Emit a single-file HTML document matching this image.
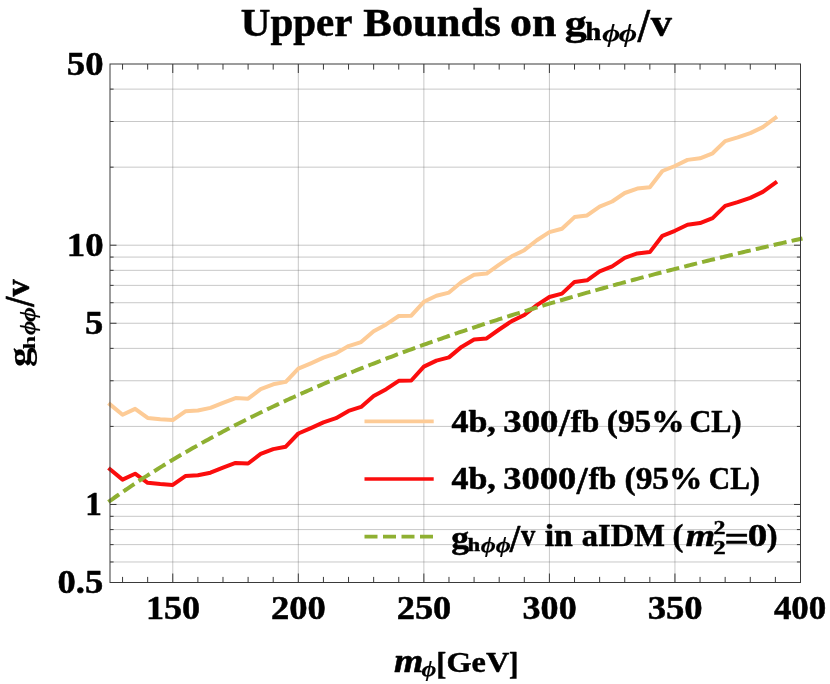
<!DOCTYPE html>
<html><head><meta charset="utf-8"><title>Upper Bounds</title>
<style>html,body{margin:0;padding:0;background:#fff;overflow:hidden;}svg{display:block;will-change:transform;}text{font-family:"Liberation Serif",serif;font-weight:bold;fill:#000;}.i{font-style:italic;}</style></head><body>
<svg width="830" height="684" viewBox="0 0 830 684">
<rect x="0" y="0" width="830" height="684" fill="#ffffff"/>
<g stroke="#666666" stroke-opacity="0.36" stroke-width="1" fill="none">
<line x1="110.00" y1="504.46" x2="800.50" y2="504.46"/>
<line x1="110.00" y1="323.25" x2="800.50" y2="323.25"/>
<line x1="110.00" y1="245.21" x2="800.50" y2="245.21"/>
<line x1="110.00" y1="561.97" x2="800.50" y2="561.97"/>
<line x1="110.00" y1="544.62" x2="800.50" y2="544.62"/>
<line x1="110.00" y1="529.58" x2="800.50" y2="529.58"/>
<line x1="110.00" y1="516.32" x2="800.50" y2="516.32"/>
<line x1="110.00" y1="426.42" x2="800.50" y2="426.42"/>
<line x1="110.00" y1="380.76" x2="800.50" y2="380.76"/>
<line x1="110.00" y1="348.37" x2="800.50" y2="348.37"/>
<line x1="110.00" y1="302.72" x2="800.50" y2="302.72"/>
<line x1="110.00" y1="285.37" x2="800.50" y2="285.37"/>
<line x1="110.00" y1="270.33" x2="800.50" y2="270.33"/>
<line x1="110.00" y1="257.07" x2="800.50" y2="257.07"/>
<line x1="110.00" y1="167.17" x2="800.50" y2="167.17"/>
<line x1="110.00" y1="121.51" x2="800.50" y2="121.51"/>
<line x1="110.00" y1="89.12" x2="800.50" y2="89.12"/>
<line x1="172.77" y1="64.00" x2="172.77" y2="582.50"/>
<line x1="298.32" y1="64.00" x2="298.32" y2="582.50"/>
<line x1="423.86" y1="64.00" x2="423.86" y2="582.50"/>
<line x1="549.41" y1="64.00" x2="549.41" y2="582.50"/>
<line x1="674.95" y1="64.00" x2="674.95" y2="582.50"/>
</g>
<clipPath id="c"><rect x="110.00" y="64.00" width="690.50" height="518.50"/></clipPath>
<g fill="none" stroke-linejoin="round" stroke-linecap="square">
<polyline points="110.00,404.39 122.55,414.79 135.11,408.89 147.66,417.99 160.22,419.29 172.77,420.09 185.33,411.29 197.88,410.49 210.44,407.89 222.99,402.79 235.55,398.09 248.10,398.69 260.65,389.09 273.21,384.29 285.76,381.89 298.32,368.69 310.87,363.29 323.43,357.59 335.98,353.39 348.54,346.09 361.09,342.09 373.65,331.29 386.20,324.39 398.75,315.99 411.31,315.69 423.86,301.79 436.42,295.79 448.97,292.59 461.53,282.09 474.08,274.79 486.64,273.59 499.19,264.69 511.75,256.29 524.30,250.19 536.85,240.29 549.41,232.19 561.96,228.79 574.52,217.09 587.07,215.49 599.63,206.59 612.18,201.49 624.74,192.99 637.29,188.59 649.85,187.29 662.40,170.99 674.95,165.99 687.51,159.89 700.06,158.29 712.62,153.29 725.17,141.09 737.73,137.39 750.28,133.09 762.84,127.09 775.39,117.89" stroke="#fdcb96" stroke-width="4.0"/>
<polyline points="110.00,469.20 122.55,479.60 135.11,473.70 147.66,482.80 160.22,484.10 172.77,484.90 185.33,476.10 197.88,475.30 210.44,472.70 222.99,467.60 235.55,462.90 248.10,463.50 260.65,453.90 273.21,449.10 285.76,446.70 298.32,433.50 310.87,428.10 323.43,422.40 335.98,418.20 348.54,410.90 361.09,406.90 373.65,396.10 386.20,389.20 398.75,380.80 411.31,380.50 423.86,366.60 436.42,360.60 448.97,357.40 461.53,346.90 474.08,339.60 486.64,338.40 499.19,329.50 511.75,321.10 524.30,315.00 536.85,305.10 549.41,297.00 561.96,293.60 574.52,281.90 587.07,280.30 599.63,271.40 612.18,266.30 624.74,257.80 637.29,253.40 649.85,252.10 662.40,235.80 674.95,230.80 687.51,224.70 700.06,223.10 712.62,218.10 725.17,205.90 737.73,202.20 750.28,197.90 762.84,191.90 775.39,182.70" stroke="#fb0d0d" stroke-width="4.0"/>
<polyline points="110.00,500.83 112.51,499.03 115.02,497.25 117.53,495.49 120.04,493.73 122.55,491.99 125.07,490.27 127.58,488.56 130.09,486.86 132.60,485.17 135.11,483.50 137.62,481.83 140.13,480.18 142.64,478.55 145.15,476.92 147.66,475.31 150.17,473.70 152.69,472.11 155.20,470.53 157.71,468.96 160.22,467.40 162.73,465.86 165.24,464.32 167.75,462.79 170.26,461.28 172.77,459.77 175.28,458.27 177.79,456.79 180.31,455.31 182.82,453.84 185.33,452.39 187.84,450.94 190.35,449.50 192.86,448.07 195.37,446.65 197.88,445.24 200.39,443.83 202.90,442.44 205.41,441.05 207.93,439.68 210.44,438.31 212.95,436.95 215.46,435.60 217.97,434.25 220.48,432.91 222.99,431.59 225.50,430.27 228.01,428.95 230.52,427.65 233.03,426.35 235.55,425.06 238.06,423.78 240.57,422.50 243.08,421.23 245.59,419.97 248.10,418.71 250.61,417.47 253.12,416.23 255.63,414.99 258.14,413.77 260.65,412.55 263.17,411.33 265.68,410.12 268.19,408.92 270.70,407.73 273.21,406.54 275.72,405.36 278.23,404.18 280.74,403.01 283.25,401.85 285.76,400.69 288.27,399.54 290.79,398.39 293.30,397.25 295.81,396.12 298.32,394.99 300.83,393.87 303.34,392.75 305.85,391.64 308.36,390.53 310.87,389.43 313.38,388.33 315.89,387.24 318.41,386.16 320.92,385.08 323.43,384.00 325.94,382.93 328.45,381.87 330.96,380.81 333.47,379.75 335.98,378.70 338.49,377.66 341.00,376.62 343.51,375.58 346.03,374.55 348.54,373.53 351.05,372.51 353.56,371.49 356.07,370.48 358.58,369.47 361.09,368.47 363.60,367.47 366.11,366.47 368.62,365.48 371.13,364.50 373.65,363.52 376.16,362.54 378.67,361.57 381.18,360.60 383.69,359.64 386.20,358.68 388.71,357.72 391.22,356.77 393.73,355.82 396.24,354.87 398.75,353.93 401.27,353.00 403.78,352.07 406.29,351.14 408.80,350.21 411.31,349.29 413.82,348.37 416.33,347.46 418.84,346.55 421.35,345.64 423.86,344.74 426.37,343.84 428.89,342.95 431.40,342.06 433.91,341.17 436.42,340.28 438.93,339.40 441.44,338.52 443.95,337.65 446.46,336.78 448.97,335.91 451.48,335.05 453.99,334.18 456.51,333.33 459.02,332.47 461.53,331.62 464.04,330.77 466.55,329.93 469.06,329.09 471.57,328.25 474.08,327.41 476.59,326.58 479.10,325.75 481.61,324.92 484.13,324.10 486.64,323.28 489.15,322.46 491.66,321.65 494.17,320.84 496.68,320.03 499.19,319.22 501.70,318.42 504.21,317.62 506.72,316.82 509.23,316.03 511.75,315.24 514.26,314.45 516.77,313.66 519.28,312.88 521.79,312.10 524.30,311.32 526.81,310.55 529.32,309.77 531.83,309.00 534.34,308.24 536.85,307.47 539.37,306.71 541.88,305.95 544.39,305.19 546.90,304.44 549.41,303.69 551.92,302.94 554.43,302.19 556.94,301.45 559.45,300.70 561.96,299.96 564.47,299.23 566.99,298.49 569.50,297.76 572.01,297.03 574.52,296.30 577.03,295.58 579.54,294.85 582.05,294.13 584.56,293.42 587.07,292.70 589.58,291.99 592.09,291.27 594.61,290.57 597.12,289.86 599.63,289.15 602.14,288.45 604.65,287.75 607.16,287.05 609.67,286.36 612.18,285.66 614.69,284.97 617.20,284.28 619.71,283.59 622.23,282.91 624.74,282.22 627.25,281.54 629.76,280.86 632.27,280.19 634.78,279.51 637.29,278.84 639.80,278.17 642.31,277.50 644.82,276.83 647.33,276.17 649.85,275.50 652.36,274.84 654.87,274.18 657.38,273.52 659.89,272.87 662.40,272.21 664.91,271.56 667.42,270.91 669.93,270.26 672.44,269.62 674.95,268.97 677.47,268.33 679.98,267.69 682.49,267.05 685.00,266.42 687.51,265.78 690.02,265.15 692.53,264.52 695.04,263.89 697.55,263.26 700.06,262.63 702.57,262.01 705.09,261.38 707.60,260.76 710.11,260.14 712.62,259.52 715.13,258.91 717.64,258.29 720.15,257.68 722.66,257.07 725.17,256.46 727.68,255.85 730.19,255.25 732.71,254.64 735.22,254.04 737.73,253.44 740.24,252.84 742.75,252.24 745.26,251.64 747.77,251.05 750.28,250.46 752.79,249.86 755.30,249.27 757.81,248.69 760.33,248.10 762.84,247.51 765.35,246.93 767.86,246.35 770.37,245.76 772.88,245.18 775.39,244.61 777.90,244.03 780.41,243.45 782.92,242.88 785.43,242.31 787.95,241.74 790.46,241.17 792.97,240.60 795.48,240.03 797.99,239.47 800.50,238.91" stroke="#8fb032" stroke-width="4.0" stroke-dasharray="9.2 9.2"/>
</g>
<g stroke="#3a3a3a" stroke-width="1" fill="none">
<rect x="110.00" y="64.00" width="690.50" height="518.50"/>
<line x1="172.77" y1="582.50" x2="172.77" y2="573.50"/>
<line x1="172.77" y1="64.00" x2="172.77" y2="73.00"/>
<line x1="298.32" y1="582.50" x2="298.32" y2="573.50"/>
<line x1="298.32" y1="64.00" x2="298.32" y2="73.00"/>
<line x1="423.86" y1="582.50" x2="423.86" y2="573.50"/>
<line x1="423.86" y1="64.00" x2="423.86" y2="73.00"/>
<line x1="549.41" y1="582.50" x2="549.41" y2="573.50"/>
<line x1="549.41" y1="64.00" x2="549.41" y2="73.00"/>
<line x1="674.95" y1="582.50" x2="674.95" y2="573.50"/>
<line x1="674.95" y1="64.00" x2="674.95" y2="73.00"/>
<line x1="122.55" y1="582.50" x2="122.55" y2="576.90"/>
<line x1="122.55" y1="64.00" x2="122.55" y2="69.60"/>
<line x1="147.66" y1="582.50" x2="147.66" y2="576.90"/>
<line x1="147.66" y1="64.00" x2="147.66" y2="69.60"/>
<line x1="197.88" y1="582.50" x2="197.88" y2="576.90"/>
<line x1="197.88" y1="64.00" x2="197.88" y2="69.60"/>
<line x1="222.99" y1="582.50" x2="222.99" y2="576.90"/>
<line x1="222.99" y1="64.00" x2="222.99" y2="69.60"/>
<line x1="248.10" y1="582.50" x2="248.10" y2="576.90"/>
<line x1="248.10" y1="64.00" x2="248.10" y2="69.60"/>
<line x1="273.21" y1="582.50" x2="273.21" y2="576.90"/>
<line x1="273.21" y1="64.00" x2="273.21" y2="69.60"/>
<line x1="323.43" y1="582.50" x2="323.43" y2="576.90"/>
<line x1="323.43" y1="64.00" x2="323.43" y2="69.60"/>
<line x1="348.54" y1="582.50" x2="348.54" y2="576.90"/>
<line x1="348.54" y1="64.00" x2="348.54" y2="69.60"/>
<line x1="373.65" y1="582.50" x2="373.65" y2="576.90"/>
<line x1="373.65" y1="64.00" x2="373.65" y2="69.60"/>
<line x1="398.75" y1="582.50" x2="398.75" y2="576.90"/>
<line x1="398.75" y1="64.00" x2="398.75" y2="69.60"/>
<line x1="448.97" y1="582.50" x2="448.97" y2="576.90"/>
<line x1="448.97" y1="64.00" x2="448.97" y2="69.60"/>
<line x1="474.08" y1="582.50" x2="474.08" y2="576.90"/>
<line x1="474.08" y1="64.00" x2="474.08" y2="69.60"/>
<line x1="499.19" y1="582.50" x2="499.19" y2="576.90"/>
<line x1="499.19" y1="64.00" x2="499.19" y2="69.60"/>
<line x1="524.30" y1="582.50" x2="524.30" y2="576.90"/>
<line x1="524.30" y1="64.00" x2="524.30" y2="69.60"/>
<line x1="574.52" y1="582.50" x2="574.52" y2="576.90"/>
<line x1="574.52" y1="64.00" x2="574.52" y2="69.60"/>
<line x1="599.63" y1="582.50" x2="599.63" y2="576.90"/>
<line x1="599.63" y1="64.00" x2="599.63" y2="69.60"/>
<line x1="624.74" y1="582.50" x2="624.74" y2="576.90"/>
<line x1="624.74" y1="64.00" x2="624.74" y2="69.60"/>
<line x1="649.85" y1="582.50" x2="649.85" y2="576.90"/>
<line x1="649.85" y1="64.00" x2="649.85" y2="69.60"/>
<line x1="700.06" y1="582.50" x2="700.06" y2="576.90"/>
<line x1="700.06" y1="64.00" x2="700.06" y2="69.60"/>
<line x1="725.17" y1="582.50" x2="725.17" y2="576.90"/>
<line x1="725.17" y1="64.00" x2="725.17" y2="69.60"/>
<line x1="750.28" y1="582.50" x2="750.28" y2="576.90"/>
<line x1="750.28" y1="64.00" x2="750.28" y2="69.60"/>
<line x1="775.39" y1="582.50" x2="775.39" y2="576.90"/>
<line x1="775.39" y1="64.00" x2="775.39" y2="69.60"/>
<line x1="110.00" y1="504.46" x2="116.50" y2="504.46"/>
<line x1="800.50" y1="504.46" x2="794.00" y2="504.46"/>
<line x1="110.00" y1="323.25" x2="116.50" y2="323.25"/>
<line x1="800.50" y1="323.25" x2="794.00" y2="323.25"/>
<line x1="110.00" y1="245.21" x2="116.50" y2="245.21"/>
<line x1="800.50" y1="245.21" x2="794.00" y2="245.21"/>
<line x1="110.00" y1="561.97" x2="113.60" y2="561.97"/>
<line x1="800.50" y1="561.97" x2="796.90" y2="561.97"/>
<line x1="110.00" y1="544.62" x2="113.60" y2="544.62"/>
<line x1="800.50" y1="544.62" x2="796.90" y2="544.62"/>
<line x1="110.00" y1="529.58" x2="113.60" y2="529.58"/>
<line x1="800.50" y1="529.58" x2="796.90" y2="529.58"/>
<line x1="110.00" y1="516.32" x2="113.60" y2="516.32"/>
<line x1="800.50" y1="516.32" x2="796.90" y2="516.32"/>
<line x1="110.00" y1="426.42" x2="113.60" y2="426.42"/>
<line x1="800.50" y1="426.42" x2="796.90" y2="426.42"/>
<line x1="110.00" y1="380.76" x2="113.60" y2="380.76"/>
<line x1="800.50" y1="380.76" x2="796.90" y2="380.76"/>
<line x1="110.00" y1="348.37" x2="113.60" y2="348.37"/>
<line x1="800.50" y1="348.37" x2="796.90" y2="348.37"/>
<line x1="110.00" y1="302.72" x2="113.60" y2="302.72"/>
<line x1="800.50" y1="302.72" x2="796.90" y2="302.72"/>
<line x1="110.00" y1="285.37" x2="113.60" y2="285.37"/>
<line x1="800.50" y1="285.37" x2="796.90" y2="285.37"/>
<line x1="110.00" y1="270.33" x2="113.60" y2="270.33"/>
<line x1="800.50" y1="270.33" x2="796.90" y2="270.33"/>
<line x1="110.00" y1="257.07" x2="113.60" y2="257.07"/>
<line x1="800.50" y1="257.07" x2="796.90" y2="257.07"/>
<line x1="110.00" y1="167.17" x2="113.60" y2="167.17"/>
<line x1="800.50" y1="167.17" x2="796.90" y2="167.17"/>
<line x1="110.00" y1="121.51" x2="113.60" y2="121.51"/>
<line x1="800.50" y1="121.51" x2="796.90" y2="121.51"/>
<line x1="110.00" y1="89.12" x2="113.60" y2="89.12"/>
<line x1="800.50" y1="89.12" x2="796.90" y2="89.12"/>
</g>
<text transform="translate(66.81,74.75) scale(1.1123,1.0000)" font-size="33" font-weight="bold" stroke="#000" stroke-width="0.5" stroke-linejoin="round" >50</text>
<text transform="translate(66.74,255.85) scale(1.1146,1.0000)" font-size="33" font-weight="bold" stroke="#000" stroke-width="0.5" stroke-linejoin="round" >10</text>
<text transform="translate(85.02,333.90) scale(1.1066,1.0000)" font-size="33" font-weight="bold" stroke="#000" stroke-width="0.5" stroke-linejoin="round" >5</text>
<text transform="translate(85.20,515.05) scale(1.0044,1.0000)" font-size="33" font-weight="bold" stroke="#000" stroke-width="0.5" stroke-linejoin="round" >1</text>
<text transform="translate(57.59,593.05) scale(1.1076,1.0000)" font-size="33" font-weight="bold" stroke="#000" stroke-width="0.5" stroke-linejoin="round" >0.5</text>
<text transform="translate(145.88,618.90) scale(1.0953,1.0000)" font-size="33" font-weight="bold" stroke="#000" stroke-width="0.5" stroke-linejoin="round" >150</text>
<text transform="translate(270.94,618.90) scale(1.1106,1.0000)" font-size="33" font-weight="bold" stroke="#000" stroke-width="0.5" stroke-linejoin="round" >200</text>
<text transform="translate(396.75,618.90) scale(1.1022,1.0000)" font-size="33" font-weight="bold" stroke="#000" stroke-width="0.5" stroke-linejoin="round" >250</text>
<text transform="translate(522.60,618.90) scale(1.0928,1.0000)" font-size="33" font-weight="bold" stroke="#000" stroke-width="0.5" stroke-linejoin="round" >300</text>
<text transform="translate(647.68,618.90) scale(1.1118,1.0000)" font-size="33" font-weight="bold" stroke="#000" stroke-width="0.5" stroke-linejoin="round" >350</text>
<text transform="translate(773.88,618.90) scale(1.0583,1.0000)" font-size="33" font-weight="bold" stroke="#000" stroke-width="0.5" stroke-linejoin="round" >400</text>
<text transform="translate(240.84,35.70) scale(1.0522,1.0300)" font-size="39" font-weight="bold" stroke="#000" stroke-width="0.5" stroke-linejoin="round" >Upper</text>
<text transform="translate(363.35,35.70) scale(1.0928,1.0300)" font-size="39" font-weight="bold" stroke="#000" stroke-width="0.5" stroke-linejoin="round" >Bounds</text>
<text transform="translate(510.01,35.70) scale(1.1258,1.0300)" font-size="39" font-weight="bold" stroke="#000" stroke-width="0.5" stroke-linejoin="round" >on</text>
<text transform="translate(564.74,35.19) scale(1.1293,0.9373)" font-size="39" font-weight="bold" stroke="#000" stroke-width="0.5" stroke-linejoin="round" >g</text>
<text transform="translate(585.35,39.56) scale(1.0671,0.9564)" font-size="27" font-weight="bold" stroke="#000" stroke-width="0.5" stroke-linejoin="round" >h</text>
<text transform="translate(602.17,41.97) scale(1.1717,0.9841)" font-size="26.5" font-weight="normal" font-style="italic" stroke="#000" stroke-width="0.15">ϕ</text>
<text transform="translate(618.86,41.97) scale(1.1954,0.9841)" font-size="26.5" font-weight="normal" font-style="italic" stroke="#000" stroke-width="0.15">ϕ</text>
<text transform="translate(637.71,41.51) scale(1.1137,1.2373)" font-size="39" font-weight="bold" stroke="#000" stroke-width="0.5" stroke-linejoin="round" >/</text>
<text transform="translate(650.87,35.70) scale(1.0850,1.0000)" font-size="39" font-weight="bold" stroke="#000" stroke-width="0.5" stroke-linejoin="round" >v</text>
<text transform="translate(394.07,672.10) scale(1.1434,1.0000)" font-size="33" font-weight="bold" font-style="italic" stroke="#000" stroke-width="0.5" stroke-linejoin="round" >m</text>
<text transform="translate(421.40,676.40) scale(1.1969,0.9873)" font-size="21.5" font-weight="normal" font-style="italic" stroke="#000" stroke-width="0.15">ϕ</text>
<text transform="translate(436.19,673.82) scale(0.9161,0.9812)" font-size="33" font-weight="bold" stroke="#000" stroke-width="0.5" stroke-linejoin="round" >[</text>
<text transform="translate(446.46,671.83) scale(0.9797,0.9019)" font-size="33" font-weight="bold" stroke="#000" stroke-width="0.5" stroke-linejoin="round" >GeV</text>
<text transform="translate(509.00,673.82) scale(0.8525,0.9812)" font-size="33" font-weight="bold" stroke="#000" stroke-width="0.5" stroke-linejoin="round" >]</text>
<g transform="translate(29.4,366) rotate(-90)">
<text transform="translate(-1.00,0.53) scale(1.1926,0.9827)" font-size="33" font-weight="bold" stroke="#000" stroke-width="0.2">g</text>
<text transform="translate(16.61,5.48) scale(1.3815,0.8771)" font-size="18" font-weight="bold" stroke="#000" stroke-width="0.05">h</text>
<text transform="translate(31.01,5.69) scale(1.1320,0.9899)" font-size="22" font-weight="normal" font-style="italic" stroke="#000" stroke-width="0.15">ϕ</text>
<text transform="translate(44.10,5.69) scale(1.1701,0.9899)" font-size="22" font-weight="normal" font-style="italic" stroke="#000" stroke-width="0.15">ϕ</text>
<text transform="translate(59.24,4.88) scale(1.1032,1.2491)" font-size="33" font-weight="bold" stroke="#000" stroke-width="0.5" stroke-linejoin="round" >/</text>
<text transform="translate(69.46,-0.10) scale(1.0412,1.0390)" font-size="33" font-weight="bold" stroke="#000" stroke-width="0.5" stroke-linejoin="round" >v</text>
</g>
<line x1="364.5" y1="421.4" x2="433.7" y2="421.4" stroke="#fdcb96" stroke-width="3.7"/>
<line x1="364.5" y1="479.0" x2="433.7" y2="479.0" stroke="#fb0d0d" stroke-width="3.7"/>
<line x1="364.5" y1="536.7" x2="433.7" y2="536.7" stroke="#8fb032" stroke-width="3.7" stroke-dasharray="13 5.5"/>
<text transform="translate(451.40,431.60) scale(1.1113,1.0000)" font-size="30.6" font-weight="bold" stroke="#000" stroke-width="0.5" stroke-linejoin="round" >4b,</text>
<text transform="translate(503.30,431.60) scale(1.2002,1.0000)" font-size="30.6" font-weight="bold" stroke="#000" stroke-width="0.5" stroke-linejoin="round" >300</text>
<text transform="translate(559.01,436.36) scale(1.2787,1.3399)" font-size="30.6" font-weight="bold" stroke="#000" stroke-width="0.5" stroke-linejoin="round" >/</text>
<text transform="translate(570.84,431.60) scale(1.0470,1.0000)" font-size="30.6" font-weight="bold" stroke="#000" stroke-width="0.5" stroke-linejoin="round" >fb</text>
<text transform="translate(606.81,431.60) scale(1.0877,1.0000)" font-size="30.6" font-weight="bold" stroke="#000" stroke-width="0.5" stroke-linejoin="round" >(95%</text>
<text transform="translate(689.46,431.60) scale(0.9911,1.0000)" font-size="30.6" font-weight="bold" stroke="#000" stroke-width="0.5" stroke-linejoin="round" >CL)</text>
<text transform="translate(451.40,489.10) scale(1.1113,1.0000)" font-size="30.6" font-weight="bold" stroke="#000" stroke-width="0.5" stroke-linejoin="round" >4b,</text>
<text transform="translate(503.31,489.10) scale(1.1907,1.0000)" font-size="30.6" font-weight="bold" stroke="#000" stroke-width="0.5" stroke-linejoin="round" >3000</text>
<text transform="translate(576.81,493.86) scale(1.2787,1.3399)" font-size="30.6" font-weight="bold" stroke="#000" stroke-width="0.5" stroke-linejoin="round" >/</text>
<text transform="translate(588.64,489.10) scale(1.0166,1.0000)" font-size="30.6" font-weight="bold" stroke="#000" stroke-width="0.5" stroke-linejoin="round" >fb</text>
<text transform="translate(624.50,489.10) scale(1.0921,1.0000)" font-size="30.6" font-weight="bold" stroke="#000" stroke-width="0.5" stroke-linejoin="round" >(95%</text>
<text transform="translate(708.79,489.10) scale(0.9673,1.0000)" font-size="30.6" font-weight="bold" stroke="#000" stroke-width="0.5" stroke-linejoin="round" >CL)</text>
<text transform="translate(451.27,547.54) scale(1.1634,1.0061)" font-size="30.6" font-weight="bold" stroke="#000" stroke-width="0.5" stroke-linejoin="round" >g</text>
<text transform="translate(467.51,551.37) scale(1.1052,0.9327)" font-size="20.6" font-weight="bold" stroke="#000" stroke-width="0.5" stroke-linejoin="round" >h</text>
<text transform="translate(480.69,552.24) scale(1.2668,0.9769)" font-size="20.6" font-weight="normal" font-style="italic" stroke="#000" stroke-width="0.15">ϕϕ</text>
<text transform="translate(509.68,551.58) scale(1.2164,1.2922)" font-size="30.6" font-weight="bold" stroke="#000" stroke-width="0.5" stroke-linejoin="round" >/</text>
<text transform="translate(520.93,546.20) scale(0.9304,1.0000)" font-size="30.6" font-weight="bold" stroke="#000" stroke-width="0.5" stroke-linejoin="round" >v</text>
<text transform="translate(544.73,546.20) scale(1.1049,1.0000)" font-size="30.6" font-weight="bold" stroke="#000" stroke-width="0.5" stroke-linejoin="round" >in</text>
<text transform="translate(581.72,546.20) scale(1.0636,1.0000)" font-size="30.6" font-weight="bold" stroke="#000" stroke-width="0.5" stroke-linejoin="round" >aIDM</text>
<text transform="translate(672.43,546.20) scale(1.0641,1.0000)" font-size="30.6" font-weight="bold" stroke="#000" stroke-width="0.5" stroke-linejoin="round" >(</text>
<text transform="translate(685.69,546.20) scale(1.2356,1.0000)" font-size="30.6" font-weight="bold" font-style="italic" stroke="#000" stroke-width="0.5" stroke-linejoin="round" >m</text>
<text transform="translate(713.60,534.46) scale(1.2220,0.9695)" font-size="19.5" font-weight="bold" stroke="#000" stroke-width="0.5" stroke-linejoin="round" >2</text>
<text transform="translate(713.18,553.66) scale(1.2685,0.9620)" font-size="19.5" font-weight="bold" stroke="#000" stroke-width="0.5" stroke-linejoin="round" >2</text>
<text transform="translate(724.59,550.86) scale(1.4122,1.1869)" font-size="30.6" font-weight="bold" stroke="#000" stroke-width="0.5" stroke-linejoin="round" >=</text>
<text transform="translate(747.63,546.20) scale(1.2765,1.0000)" font-size="30.6" font-weight="bold" stroke="#000" stroke-width="0.5" stroke-linejoin="round" >0</text>
<text transform="translate(766.82,546.20) scale(1.0641,1.0000)" font-size="30.6" font-weight="bold" stroke="#000" stroke-width="0.5" stroke-linejoin="round" >)</text>
</svg></body></html>
